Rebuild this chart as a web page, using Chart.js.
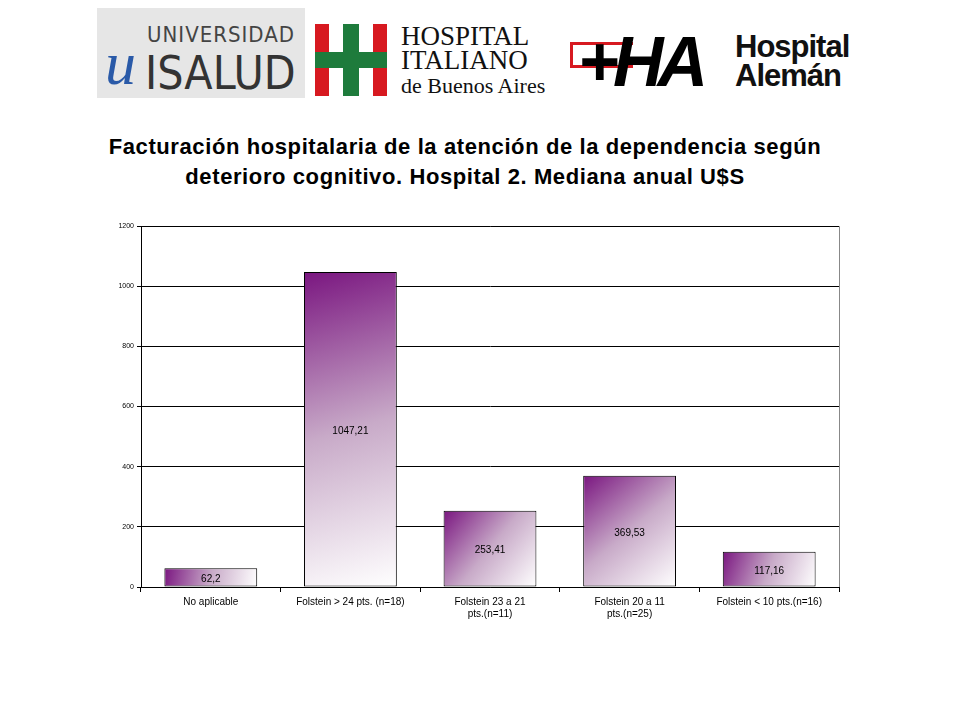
<!DOCTYPE html>
<html>
<head>
<meta charset="utf-8">
<script src="https://cdn.jsdelivr.net/npm/chart.js@4.4.0/dist/chart.umd.min.js"></script>
<style>
  body { margin:0; width:960px; height:720px; background:#fff; position:relative; font-family:"Liberation Sans", Arial, sans-serif; overflow:hidden; }
  .logo { position:absolute; }
  #isalud { left:97px; top:8px; width:208px; height:90px; background:#e6e6e6; }
  #isalud .u { position:absolute; left:8px; top:20px; font:italic 62px "Liberation Serif", serif; color:#2a5aa8; }
  #isalud .t1 { position:absolute; left:50px; top:14px; font:22px "DejaVu Sans Condensed", sans-serif; color:#444; letter-spacing:1px; }
  #isalud .t2 { position:absolute; left:48px; top:38px; font:46px "DejaVu Sans Condensed", sans-serif; color:#333; }
  #hi { left:313px; top:24px; width:240px; height:75px; }
  .bar { position:absolute; }
  #hi .txt { position:absolute; left:88px; top:0; font:27px "Liberation Serif", serif; line-height:24px; color:#111; }
  #hi .txt span { font-size:22px; }
  #ha { left:570px; top:28px; width:300px; height:70px; }
  #ha .ha { position:absolute; left:8px; top:-6px; font:bold italic 70px "Liberation Sans", sans-serif; color:#000; letter-spacing:-6px; }
  #ha .name { position:absolute; left:165px; top:4px; font:bold 31px "Liberation Sans", sans-serif; line-height:29px; color:#111; letter-spacing:-1px; }
  h1 { position:absolute; left:0; top:132px; width:930px; margin:0; text-align:center; font:bold 22px "Liberation Sans", Arial, sans-serif; letter-spacing:0.6px; line-height:30px; color:#000; }
  #wrap { position:absolute; left:95px; top:218px; width:755px; height:420px; }
</style>
</head>
<body>
<div class="logo" id="isalud"><div class="u">u</div><div class="t1">UNIVERSIDAD</div><div class="t2">ISALUD</div></div>
<div class="logo" id="hi">
  <div class="bar" style="left:2px;top:0;width:14px;height:72px;background:#d71920"></div>
  <div class="bar" style="left:60px;top:0;width:14px;height:72px;background:#d71920"></div>
  <div class="bar" style="left:30px;top:0;width:16px;height:72px;background:#1e7b3c"></div>
  <div class="bar" style="left:2px;top:28px;width:72px;height:16px;background:#1e7b3c"></div>
  <div class="txt">HOSPITAL<br>ITALIANO<br><span>de Buenos Aires</span></div>
</div>
<div class="logo" id="ha">
  <div class="bar" style="left:0;top:14px;width:60px;height:20px;border:3px solid #d71920;border-right:none"></div>
  <div class="ha">+HA</div>
  <div class="name">Hospital<br>Alemán</div>
</div>
<h1>Facturación hospitalaria de la atención de la dependencia según<br>deterioro cognitivo. Hospital 2. Mediana anual U$S</h1>
<div id="wrap"><canvas id="c"></canvas></div>
<script>
const categories = [
  "No aplicable",
  "Folstein > 24 pts. (n=18)",
  ["Folstein 23 a 21", "pts.(n=11)"],
  ["Folstein 20 a 11", "pts.(n=25)"],
  "Folstein < 10 pts.(n=16)"
];
const values = [62.2, 1047.21, 253.41, 369.53, 117.16];
const valueLabels = ["62,2", "1047,21", "253,41", "369,53", "117,16"];

// dégradé diagonal violet -> blanc pour chaque barre
const gradientBars = {
  id: "gradientBars",
  beforeDatasetDraw(chart) {
    const ctx = chart.ctx;
    chart.getDatasetMeta(0).data.forEach(bar => {
      const x0 = bar.x - bar.width / 2, x1 = bar.x + bar.width / 2;
      const g = ctx.createLinearGradient(x0, bar.y, x1, bar.base);
      g.addColorStop(0, "#7a1680");
      g.addColorStop(0.5, "#c8aac8");
      g.addColorStop(1, "#ffffff");
      // les options sont partagées entre barres : on fait une copie
      bar.options = Object.assign({}, bar.options, { backgroundColor: g });
    });
  },
  afterDatasetDraw(chart) {
    const ctx = chart.ctx;
    ctx.save();
    ctx.font = "10px 'Liberation Sans', Arial";
    ctx.fillStyle = "#000";
    ctx.textAlign = "center";
    ctx.textBaseline = "middle";
    chart.getDatasetMeta(0).data.forEach((bar, i) => {
      ctx.fillText(valueLabels[i], bar.x, (bar.y + bar.base) / 2 + 2);
    });
    ctx.restore();
  },
  beforeDraw(chart) {
    const a = chart.chartArea, ctx = chart.ctx;
    ctx.save();
    ctx.strokeStyle = "#888";
    ctx.lineWidth = 1;
    ctx.beginPath();
    ctx.moveTo(a.left, a.top + 0.5); ctx.lineTo(a.right + 0.5, a.top + 0.5); ctx.lineTo(a.right + 0.5, a.bottom);
    ctx.stroke();
    ctx.restore();
  }
};

new Chart(document.getElementById("c"), {
  type: "bar",
  data: {
    labels: categories,
    datasets: [{
      data: values,
      borderColor: "#000",
      borderWidth: 1,
      borderSkipped: false,
      categoryPercentage: 1,
      barPercentage: 0.665
    }]
  },
  plugins: [gradientBars],
  options: {
    responsive: true,
    maintainAspectRatio: false,
    animation: false,
    layout: { padding: { top: 8, right: 11, left: 0, bottom: 0 } },
    plugins: { legend: { display: false }, tooltip: { enabled: false } },
    scales: {
      x: {
        grid: { display: true, drawOnChartArea: false, color: "#000", tickLength: 5 },
        border: { color: "#000" },
        ticks: { color: "#000", font: { size: 10, family: "Liberation Sans" }, maxRotation: 0, autoSkip: false, padding: 4 },
        afterFit(s) { s.height = 51; }
      },
      y: {
        min: 0, max: 1200,
        ticks: { stepSize: 200, color: "#000", font: { size: 7, family: "Liberation Sans" }, padding: 3, callback: v => String(v) },
        grid: { color: "#000", tickLength: 4 },
        border: { color: "#000" },
        afterFit(s) { s.width = 46; }
      }
    }
  }
});
</script>
</body>
</html>
